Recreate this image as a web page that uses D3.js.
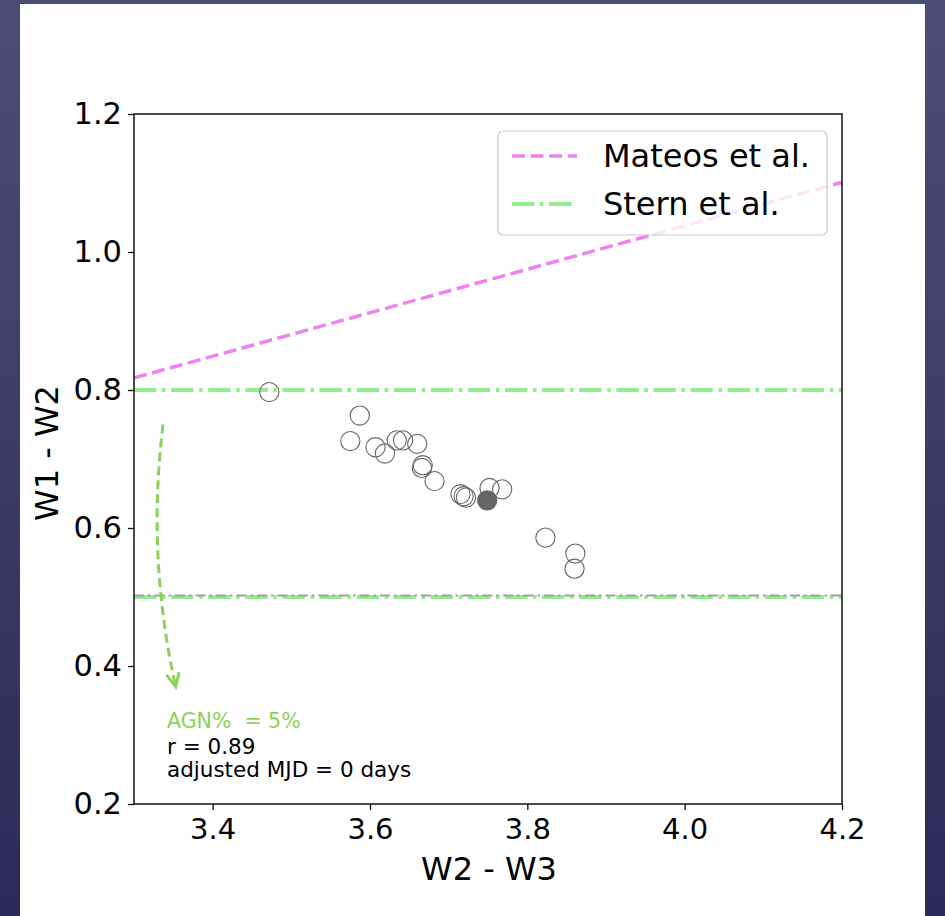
<!DOCTYPE html>
<html>
<head>
<meta charset="utf-8">
<script src="https://cdn.jsdelivr.net/npm/d3@7"></script>
<style>
  body { margin: 0; background: #3a3c66; }
  svg { display: block; font-family: 'DejaVu Sans', sans-serif; }
</style>
</head>
<body>
<svg id="chart"></svg>
<script>
// W2 - W3 colours of each epoch
const w2w3 = [3.472, 3.587, 3.575, 3.607, 3.619, 3.634, 3.642, 3.660, 3.667, 3.666,
  3.682, 3.715, 3.719, 3.722, 3.752, 3.768, 3.823, 3.861, 3.860, 3.749];
// W1 - W2 colours of each epoch
const w1w2 = [0.797, 0.763, 0.726, 0.717, 0.708, 0.727, 0.727, 0.722, 0.691, 0.687,
  0.668, 0.649, 0.646, 0.644, 0.658, 0.656, 0.586, 0.563, 0.541, 0.640];
// the last point is the highlighted (filled) one
const highlight = [false, false, false, false, false, false, false, false, false, false,
  false, false, false, false, false, false, false, false, false, true];

const xTicks = [3.4, 3.6, 3.8, 4.0, 4.2];
const yTicks = [0.2, 0.4, 0.6, 0.8, 1.0, 1.2];
const xDomain = [3.3, 4.2];
const yDomain = [0.2, 1.2];

// Mateos et al. wedge edge: y = slope * x + intercept
const mateosSlope = 0.315;
const mateosIntercept = -0.222;
// Stern et al. cuts
const sternCuts = [0.8, 0.5];
const grayCut = 0.5;

// AGN arrow (start, control, end) in data units
const arrowPts = [[3.337, 0.75], [3.316, 0.559], [3.353, 0.37]];
const notes = ['r = 0.89', 'adjusted MJD = 0 days'];
const agnNote = 'AGN%  = 5%';

const width = 945, height = 916;
const margin = { top: 114, right: 103, bottom: 112, left: 134 };
const chartW = width - margin.left - margin.right;
const chartH = height - margin.top - margin.bottom;

const svg = d3.select('#chart').attr('width', width).attr('height', height);

// dark gradient frame
const grad = svg.append('defs').append('linearGradient')
  .attr('id', 'bg').attr('x1', 0).attr('y1', 0).attr('x2', 0).attr('y2', 1);
grad.append('stop').attr('offset', 0).attr('stop-color', '#4a4e74');
grad.append('stop').attr('offset', 1).attr('stop-color', '#2a2b58');
svg.append('rect').attr('width', width).attr('height', height).attr('fill', 'url(#bg)');
svg.append('rect').attr('x', 20).attr('y', 4).attr('width', 905).attr('height', height - 4)
  .attr('fill', '#ffffff');

svg.select('defs').append('clipPath').attr('id', 'clip')
  .append('rect').attr('width', chartW).attr('height', chartH);

const x = d3.scaleLinear().domain(xDomain).range([0, chartW]);
const y = d3.scaleLinear().domain(yDomain).range([chartH, 0]);

const g = svg.append('g').attr('transform', `translate(${margin.left},${margin.top})`);
const plot = g.append('g').attr('clip-path', 'url(#clip)');

// reference lines
const line = d3.line().x(d => x(d[0])).y(d => y(d[1]));
plot.append('path')
  .attr('d', line(xDomain.map(v => [v, mateosSlope * v + mateosIntercept])))
  .attr('stroke', '#ee82ee').attr('stroke-width', 3.5).attr('fill', 'none')
  .attr('stroke-dasharray', '13,5.6');

sternCuts.forEach(c => {
  plot.append('path')
    .attr('d', line(xDomain.map(v => [v, c])))
    .attr('stroke', '#90ee90').attr('stroke-width', 3.8).attr('fill', 'none')
    .attr('stroke-dasharray', '22.4,5.6,3.5,5.6');
});
plot.append('path')
  .attr('d', `M0,${y(grayCut) - 1.5}H${chartW}`)
  .attr('stroke', '#a0a0a0').attr('stroke-width', 2.2).attr('fill', 'none')
  .attr('stroke-dasharray', '10,4,2.5,4');

// points
const pts = w2w3.map((v, i) => ({ x: v, y: w1w2[i], hi: highlight[i] }));
plot.selectAll('circle')
  .data(pts)
  .enter()
  .append('circle')
  .attr('cx', d => x(d.x))
  .attr('cy', d => y(d.y))
  .attr('r', 9.6)
  .attr('fill', d => d.hi ? '#666666' : 'none')
  .attr('stroke', '#666666')
  .attr('stroke-width', 1.1);

// curved dashed arrow
const agnColor = '#8dd15a';
const [p0, pc, p2] = arrowPts.map(p => [x(p[0]), y(p[1])]);
const ap = d3.path();
ap.moveTo(p0[0], p0[1]);
ap.quadraticCurveTo(pc[0], pc[1], p2[0], p2[1]);
g.append('path').attr('d', ap.toString())
  .attr('stroke', agnColor).attr('stroke-width', 3).attr('fill', 'none')
  .attr('stroke-dasharray', '9,5');
const ang = Math.atan2(p2[1] - pc[1], p2[0] - pc[0]);
const headLen = 15, spread = 0.45;
const head = d3.path();
head.moveTo(p2[0] - headLen * Math.cos(ang - spread), p2[1] - headLen * Math.sin(ang - spread));
head.lineTo(p2[0], p2[1]);
head.lineTo(p2[0] - headLen * Math.cos(ang + spread), p2[1] - headLen * Math.sin(ang + spread));
g.append('path').attr('d', head.toString())
  .attr('stroke', agnColor).attr('stroke-width', 3).attr('fill', 'none')
  .attr('stroke-linejoin', 'miter');

// annotation texts
g.append('text').attr('x', 33).attr('y', 614).attr('font-size', 20.5)
  .attr('fill', agnColor).attr('xml:space', 'preserve').text(agnNote);
g.selectAll('.note').data(notes).enter().append('text')
  .attr('class', 'note')
  .attr('x', 33).attr('y', (d, i) => 640 + i * 22.5)
  .attr('font-size', 21.5).attr('fill', '#000').text(d => d);

// frame
g.append('rect').attr('width', chartW).attr('height', chartH)
  .attr('fill', 'none').attr('stroke', '#111').attr('stroke-width', 1.5);

// axes
const xAxis = g.append('g').attr('transform', `translate(0,${chartH})`)
  .call(d3.axisBottom(x).tickValues(xTicks).tickFormat(d3.format('.1f')).tickSize(6).tickPadding(8));
const yAxis = g.append('g')
  .call(d3.axisLeft(y).tickValues(yTicks).tickFormat(d3.format('.1f')).tickSize(6).tickPadding(6));
[xAxis, yAxis].forEach(a => {
  a.select('.domain').remove();
  a.selectAll('line').attr('stroke', '#111').attr('stroke-width', 1.3);
  a.selectAll('text').attr('font-size', 29).attr('fill', '#000')
    .attr('font-family', "'DejaVu Sans', sans-serif");
});
yAxis.selectAll('text').attr('font-size', 30.5);

g.append('text').attr('x', chartW / 2 + 1).attr('y', chartH + 76)
  .attr('text-anchor', 'middle').attr('font-size', 32).text('W2 - W3');
g.append('text')
  .attr('transform', `translate(-76,${chartH / 2 - 6}) rotate(-90)`)
  .attr('text-anchor', 'middle').attr('font-size', 32).text('W1 - W2');

// legend
const legend = svg.append('g').attr('transform', 'translate(498,131)');
legend.append('rect').attr('width', 329).attr('height', 104).attr('rx', 5)
  .attr('fill', '#ffffff').attr('fill-opacity', 0.8)
  .attr('stroke', '#cccccc').attr('stroke-width', 1.2);
const legendItems = [
  { label: 'Mateos et al.', color: '#ee82ee', dash: '13,5.6', w: 3.5 },
  { label: 'Stern et al.', color: '#90ee90', dash: '22.4,5.6,3.5,5.6', w: 3.8 }
];
const li = legend.selectAll('.item').data(legendItems).enter().append('g')
  .attr('transform', (d, i) => `translate(0,${25 + i * 48})`);
li.append('line').attr('x1', 14).attr('x2', 79)
  .attr('stroke', d => d.color).attr('stroke-width', d => d.w)
  .attr('stroke-dasharray', d => d.dash);
li.append('text').attr('x', 105).attr('y', 11).attr('font-size', 32)
  .attr('fill', '#000').text(d => d.label);
</script>
</body>
</html>
